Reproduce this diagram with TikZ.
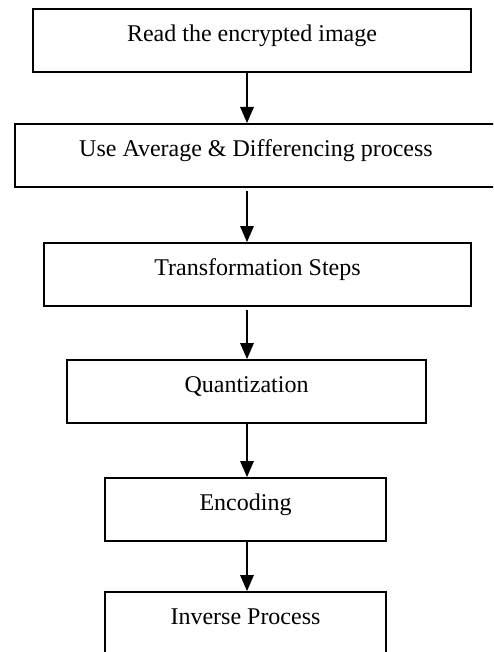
\documentclass[tikz,border=0pt]{standalone}
\usepackage{fontspec}
\setmainfont{Liberation Serif}
\usepackage{tikz}

\begin{document}
\begin{tikzpicture}[x=1pt,y=-1pt]
\tikzstyle{every node}+=[inner sep=0pt]
\tikzstyle{stage}=[draw=black, line width=1.8pt, anchor=north, text height=33pt, text depth=30pt, font=\fontsize{24}{28}\selectfont]
\tikzstyle{flow}=[black, line width=2.3pt, shorten >=14pt]
\useasboundingbox (0,0) rectangle (493,652);
\clip (0,0) rectangle (493,652);
\coordinate (axis) at (247,0);
\node [stage, minimum width=438pt] (read) at (252,8) {Read the encrypted image};
\node [stage, minimum width=482pt] (avg) at (256,123) {Use Average \& Differencing process};
\node [stage, minimum width=427pt] (trans) at (257.5,242) {Transformation Steps};
\node [stage, minimum width=359pt] (quant) at (246.5,359) {Quantization};
\node [stage, minimum width=281pt] (enc) at (245.5,477) {Encoding};
\node [stage, minimum width=281pt] (inv) at (245.5,591) {Inverse Process};
\draw [flow] (read.south -| axis) -- (avg.north -| axis);
\fill [black] (avg.north -| axis) -- ++(-7,-16) -- ++(14,0) -- cycle;
\draw [flow, shorten <=3pt] (avg.south -| axis) -- (trans.north -| axis);
\fill [black] (trans.north -| axis) -- ++(-7,-16) -- ++(14,0) -- cycle;
\draw [flow, shorten <=3pt] (trans.south -| axis) -- (quant.north -| axis);
\fill [black] (quant.north -| axis) -- ++(-7,-16) -- ++(14,0) -- cycle;
\draw [flow] (quant.south -| axis) -- (enc.north -| axis);
\fill [black] (enc.north -| axis) -- ++(-7,-16) -- ++(14,0) -- cycle;
\draw [flow] (enc.south -| axis) -- (inv.north -| axis);
\fill [black] (inv.north -| axis) -- ++(-7,-16) -- ++(14,0) -- cycle;
\end{tikzpicture}
\end{document}
